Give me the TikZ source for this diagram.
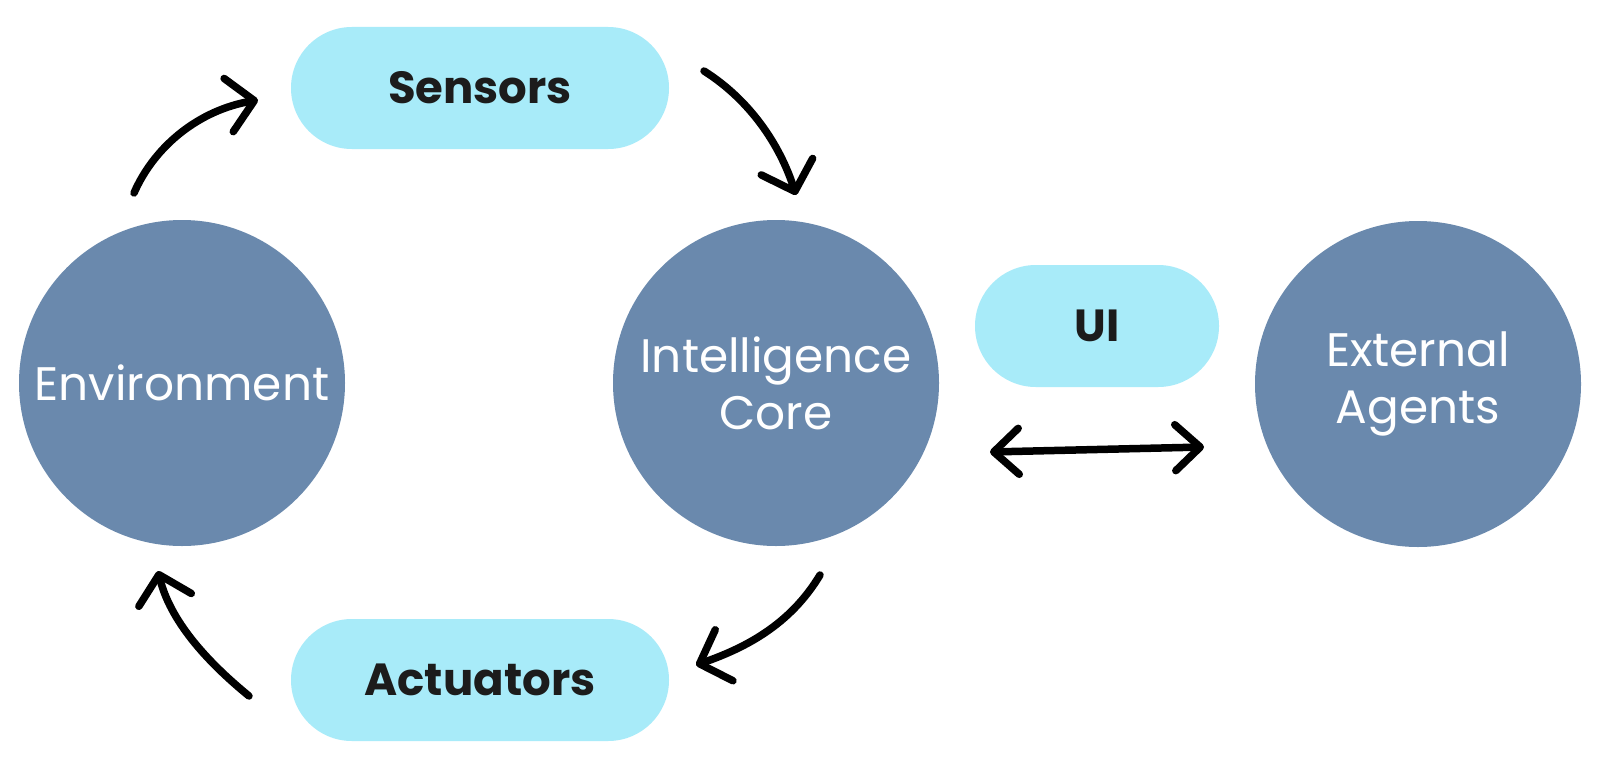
\documentclass[tikz,border=0pt]{standalone}
\usepackage{fontspec}
\setmainfont{Poppins}
\usetikzlibrary{arrows.meta}
\definecolor{circ}{HTML}{6A89AD}
\definecolor{pill}{HTML}{A8EBF9}
\definecolor{ink}{HTML}{1C1C1C}
\begin{document}
\begin{tikzpicture}[x=1pt,y=-1pt,
  bigc/.style={circle, fill=circ, minimum size=326pt, inner sep=0pt, text=white, align=center, font=\fontsize{47}{57}\selectfont},
  pillbox/.style={rectangle, rounded corners=60.9pt, fill=pill, minimum height=122pt, inner sep=0pt, text=ink, font=\fontsize{45}{50}\selectfont\bfseries},
  flow/.style={line width=7.5pt, line cap=round, -{Straight Barb[length=26pt,width=54pt,line width=7.5pt,round]}},
  both/.style={line width=7.5pt, line cap=round, {Straight Barb[length=25pt,width=46pt,line width=7.5pt,round]}-{Straight Barb[length=25pt,width=46pt,line width=7.5pt,round]}},
]
\fill[white] (0,0) rectangle (1600,768);
\useasboundingbox (0,0) rectangle (1600,768);

\node[bigc] (env) at (182,383) {Environment};
\node[bigc] (core) at (776,383) {Intelligence\\Core};
\node[bigc] (ext) at (1418,384) {External\\Agents};

\node[pillbox, minimum width=378pt] (sens) at (480,88) {Sensors};
\node[pillbox, minimum width=244pt] (ui) at (1097,326) {UI};
\node[pillbox, minimum width=378pt] (act) at (480,680) {Actuators};

\coordinate (a1s) at (134,193);
\coordinate (a1t) at (258,100);
\coordinate (a2s) at (704,71);
\coordinate (a2t) at (796,195);
\coordinate (a3s) at (820,575);
\coordinate (a3t) at (696,665);
\coordinate (a4s) at (249,696);
\coordinate (a4t) at (158,571);
\coordinate (b1) at (990,452);
\coordinate (b2) at (1204,447);

\draw[flow] (a1s) .. controls (155,145) and (200,110) .. (a1t);
\draw[flow] (a2s) .. controls (750,100) and (780,145) .. (a2t);
\draw[flow] (a3s) .. controls (790,625) and (745,648) .. (a3t);
\draw[flow] (a4s) .. controls (205,660) and (170,620) .. (a4t);
\draw[both] (b1) -- (b2);
\end{tikzpicture}
\end{document}
